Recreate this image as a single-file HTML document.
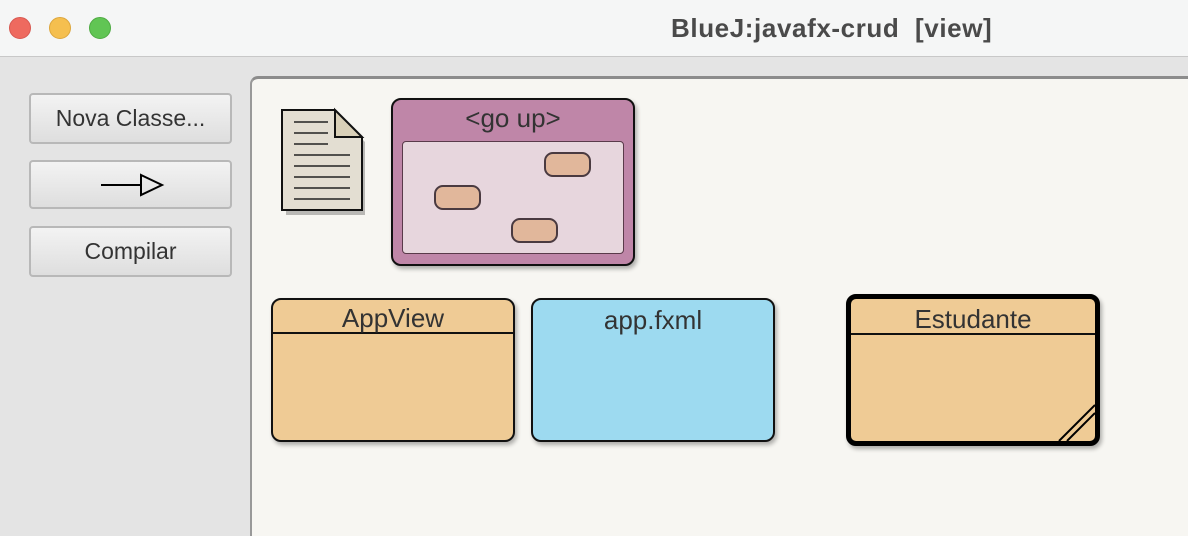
<!DOCTYPE html>
<html><head><meta charset="utf-8"><style>
*{margin:0;padding:0;box-sizing:border-box}
body{width:1188px;height:526px;overflow:hidden;background:#e4e4e4;font-family:"Liberation Sans",sans-serif;position:relative}
.abs{position:absolute}
.title{left:0;top:0;width:1188px;height:57px;background:#f5f6f6;border-bottom:1px solid #c8c8c8}
.dot{width:22px;height:22px;border-radius:50%;top:17px}
.btn{left:29px;width:203px;background:linear-gradient(#f3f3f3,#dedede);border:2px solid #b8b8b8;border-radius:4px;text-align:center;color:#333;font-size:23px}
.canvas{left:250px;top:76px;width:950px;height:460px;background:#f7f6f2;border-left:2px solid #999;border-top:3px solid #8c8c8c;border-top-left-radius:8px}
.cls{border:2px solid #111;border-radius:10px;box-shadow:2px 3px 4px rgba(0,0,0,.3);text-align:center;color:#333;font-size:26px}
.pill{width:47px;height:25px;background:#e1b79b;border:2px solid #4a3a40;border-radius:9px}
</style></head><body>
<div class="abs title"></div>
<div class="abs dot" style="left:9px;background:#ee6a5f;border:1px solid #d85850"></div>
<div class="abs dot" style="left:49px;background:#f5bf4f;border:1px solid #dda63c"></div>
<div class="abs dot" style="left:89px;background:#61c554;border:1px solid #4eab42"></div>
<div class="abs" style="left:671px;top:13px;font-size:26px;letter-spacing:0.6px;font-weight:bold;color:#4a4a4a;white-space:pre">BlueJ:javafx-crud  [view]</div>
<div class="abs btn" style="top:93px;height:51px;line-height:47px">Nova Classe...</div>
<div class="abs btn" style="top:160px;height:49px"><svg width="200" height="45"><line x1="70" y1="23" x2="110" y2="23" stroke="#000" stroke-width="2"/><polygon points="110,13 131,23 110,33" fill="none" stroke="#000" stroke-width="2"/></svg></div>
<div class="abs btn" style="top:226px;height:51px;line-height:47px">Compilar</div>
<div class="abs canvas"></div>
<svg class="abs" style="left:278px;top:106px" width="90" height="112"><polygon points="6,6 58,6 85,33 85,106 6,106" fill="#000" opacity=".25" transform="translate(2,3)"/><polygon points="4,4 57,4 84,31 84,104 4,104" fill="#e3ded2" stroke="#111" stroke-width="2"/><polygon points="57,4 57,31 84,31" fill="#d9d0b8" stroke="#111" stroke-width="2"/>
<g stroke="#222" stroke-width="1.5"><line x1="16" y1="16" x2="50" y2="16"/><line x1="16" y1="27" x2="50" y2="27"/><line x1="16" y1="38" x2="50" y2="38"/><line x1="16" y1="49" x2="72" y2="49"/><line x1="16" y1="60" x2="72" y2="60"/><line x1="16" y1="71" x2="72" y2="71"/><line x1="16" y1="82" x2="72" y2="82"/><line x1="16" y1="93" x2="72" y2="93"/></g></svg>
<div class="abs cls" style="left:391px;top:98px;width:244px;height:168px;background:#bf86a8;line-height:36px">&lt;go up&gt;</div>
<div class="abs" style="left:402px;top:141px;width:222px;height:113px;background:#e7d6dd;border:1px solid #5a3a4a;border-radius:4px"></div>
<div class="abs pill" style="left:544px;top:152px"></div>
<div class="abs pill" style="left:434px;top:185px"></div>
<div class="abs pill" style="left:511px;top:218px"></div>
<div class="abs cls" style="left:271px;top:298px;width:244px;height:144px;background:#efcb95"><div style="height:34px;border-bottom:2px solid #111;line-height:36px">AppView</div></div>
<div class="abs cls" style="left:531px;top:298px;width:244px;height:144px;background:#9ddaf0;line-height:40px">app.fxml</div>
<div class="abs cls" style="left:846px;top:294px;width:254px;height:152px;background:#efcb95;border:5px solid #000"><div style="height:36px;border-bottom:2px solid #111;line-height:40px">Estudante</div>
<svg class="abs" style="right:0;bottom:0" width="40" height="40"><line x1="4" y1="40" x2="40" y2="4" stroke="#000" stroke-width="2"/><line x1="12" y1="40" x2="40" y2="12" stroke="#000" stroke-width="2"/></svg></div>
</body></html>
